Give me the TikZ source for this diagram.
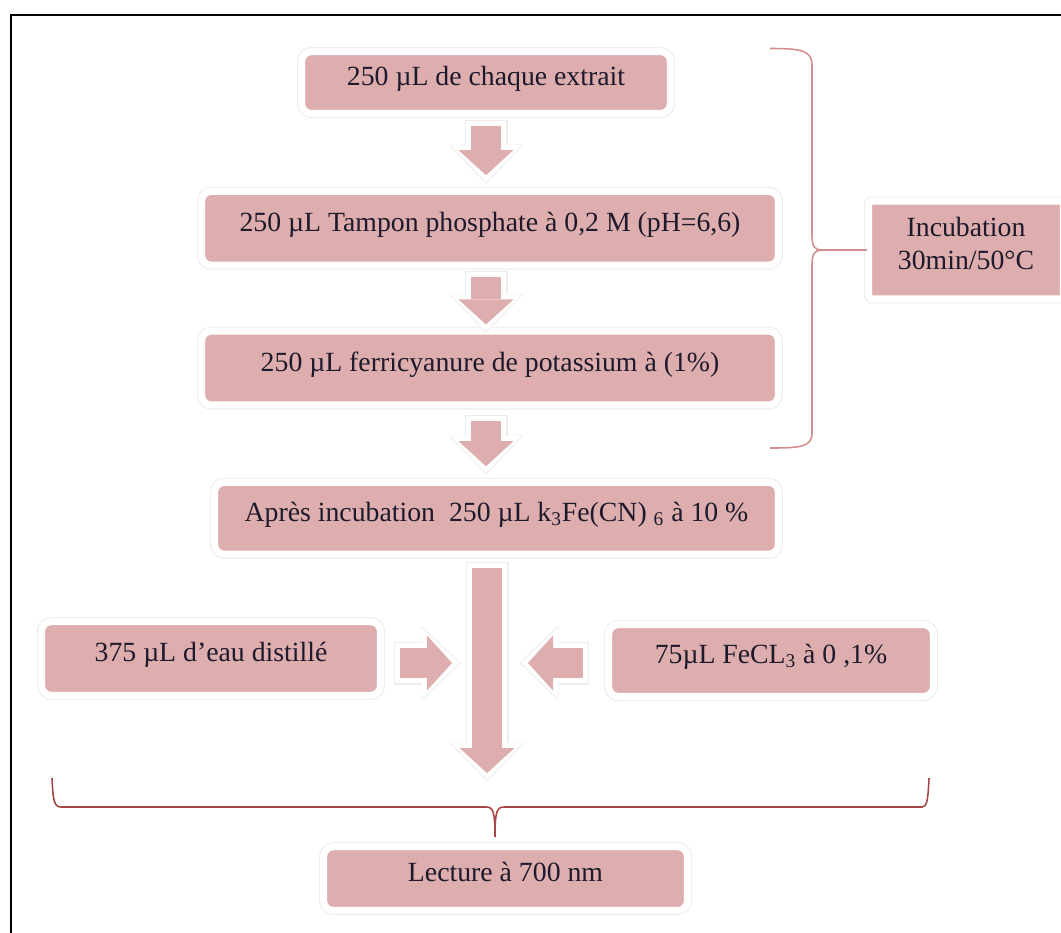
\documentclass[tikz,border=0pt]{standalone}
\usepackage{fontspec}
\setmainfont{Liberation Serif}
\usepackage{tikz}
\usetikzlibrary{arrows.meta, positioning, shadows, calc}
\definecolor{boxpink}{RGB}{222,173,173}
\definecolor{textnavy}{RGB}{28,26,44}
\definecolor{bracerose}{RGB}{212,142,142}
\definecolor{bracered}{RGB}{168,70,70}

\begin{document}
\begin{tikzpicture}[
    node distance = 1.4cm and 1.6cm,
    box/.style    = {draw=white, line width=3pt, fill=boxpink,
                     rounded corners=5pt, align=center, text=textnavy,
                     font=\fontsize{15.8}{19}\selectfont, text depth=0.27cm,
                     drop shadow={opacity=0.18, shadow xshift=0.8pt,
                                  shadow yshift=-2.2pt},
                     preaction={draw=black!7, line width=6.2pt},
                     preaction={draw=white, line width=5pt}},
    blk/.style 2 args = {draw=boxpink, line width=0.6cm,
                     shorten <=#1, shorten >=#2,
                     -{Triangle[length=0.5cm, width=1.1cm, line width=0pt]},
                     preaction={draw=black!7, line width=0.86cm,
                       shorten <=#1-0.12cm, shorten >=#2-0.17cm,
                       -{Triangle[length=0.78cm, width=1.5cm, line width=0pt]}},
                     preaction={draw=white, line width=0.8cm,
                       shorten <=#1-0.1cm, shorten >=#2-0.14cm,
                       -{Triangle[length=0.74cm, width=1.42cm, line width=0pt]}}},
    brace/.style  = {draw=bracerose, line width=0.9pt}
  ]
  \useasboundingbox (0,0) rectangle (21.22,-18.64);
  \clip (0,0) rectangle (21.22,-18.64);
  % outer frame
  \draw[line width=1.7pt] (0.22,-19) -- (0.22,-0.3) -- (21.6,-0.3);

  % main column
  \node[box, minimum width=7.34cm, minimum height=1.2cm] (extrait) at (9.72,-1.65)
        {250 µL de chaque extrait};
  \node[box, minimum width=11.5cm, minimum height=1.44cm,
        below=1.49cm of extrait, xshift=0.08cm] (tampon)
        {250 µL Tampon phosphate à 0,2 M (pH=6,6)};
  \node[box, minimum width=11.5cm, minimum height=1.44cm,
        below=1.25cm of tampon] (ferri)
        {250 µL ferricyanure de potassium à (1\%)};
  \node[box, minimum width=11.24cm, minimum height=1.4cm,
        below=1.48cm of ferri, xshift=0.13cm] (apres)
        {Après incubation \ 250 µL k\textsubscript{3}Fe(CN) \textsubscript{6} à 10 \%};
  \node[box, minimum width=7.24cm, minimum height=1.24cm,
        below=5.78cm of apres, xshift=0.18cm] (lecture)
        {Lecture à 700 nm};

  % side boxes
  \node[box, minimum width=6.74cm, minimum height=1.44cm] (eau) at (4.22,-13.17)
        {375 µL d’eau distillé};
  \node[box, minimum width=6.46cm, minimum height=1.4cm] (fecl) at (15.42,-13.21)
        {75µL FeCL\textsubscript{3} à 0 ,1\%};
  \node[box, rounded corners=1pt, minimum width=3.86cm, minimum height=1.92cm]
        (incub) at (19.32,-5.0) {Incubation\\30min/50°C};

  \coordinate (mix) at (9.74,-15.46);
  \coordinate (jl)  at (9.04,-13.26);
  \coordinate (jr)  at (10.56,-13.26);

  \draw[blk={0.22cm}{0.29cm}] (extrait.south) -- (extrait.south |- tampon.north);
  \draw[blk={0.2cm}{0.1cm}]   (extrait |- tampon.south) -- (extrait |- ferri.north);
  \draw[blk={0.29cm}{0.29cm}] (extrait |- ferri.south) -- (extrait |- apres.north);
  \draw[blk={0.25cm}{0cm}]    (mix |- apres.south) -- (mix);
  \draw[blk={0.35cm}{0cm}]    (eau.east |- jl) -- (jl);
  \draw[blk={0.47cm}{0cm}]    (fecl.west |- jr) -- (jr);

  % incubation brace
  \coordinate (tipR) at (16.42,-5.0);
  \draw[brace] (15.4,-0.97) .. controls (16.0,-0.97) and (16.24,-1.0) .. (16.24,-1.3)
        -- (16.24,-4.72) .. controls (16.24,-4.92) and (16.3,-5.0) .. (tipR)
        .. controls (16.3,-5.0) and (16.24,-5.08) .. (16.24,-5.28)
        -- (16.24,-8.66) .. controls (16.24,-8.94) and (16.0,-8.96) .. (15.4,-8.96);
  \draw[brace] (tipR) -- (incub.west);

  % reading brace
  \coordinate (tipB) at (9.9,-16.74);
  \draw[brace, draw=bracered] (1.04,-15.56) .. controls (1.06,-16.0) and (1.08,-16.14) .. (1.22,-16.14)
        -- (9.72,-16.14) .. controls (9.86,-16.14) and (9.9,-16.22) .. (tipB)
        .. controls (9.9,-16.22) and (9.94,-16.14) .. (10.08,-16.14)
        -- (18.44,-16.14) .. controls (18.54,-16.14) and (18.56,-16.0) .. (18.58,-15.56);
\end{tikzpicture}
\end{document}
